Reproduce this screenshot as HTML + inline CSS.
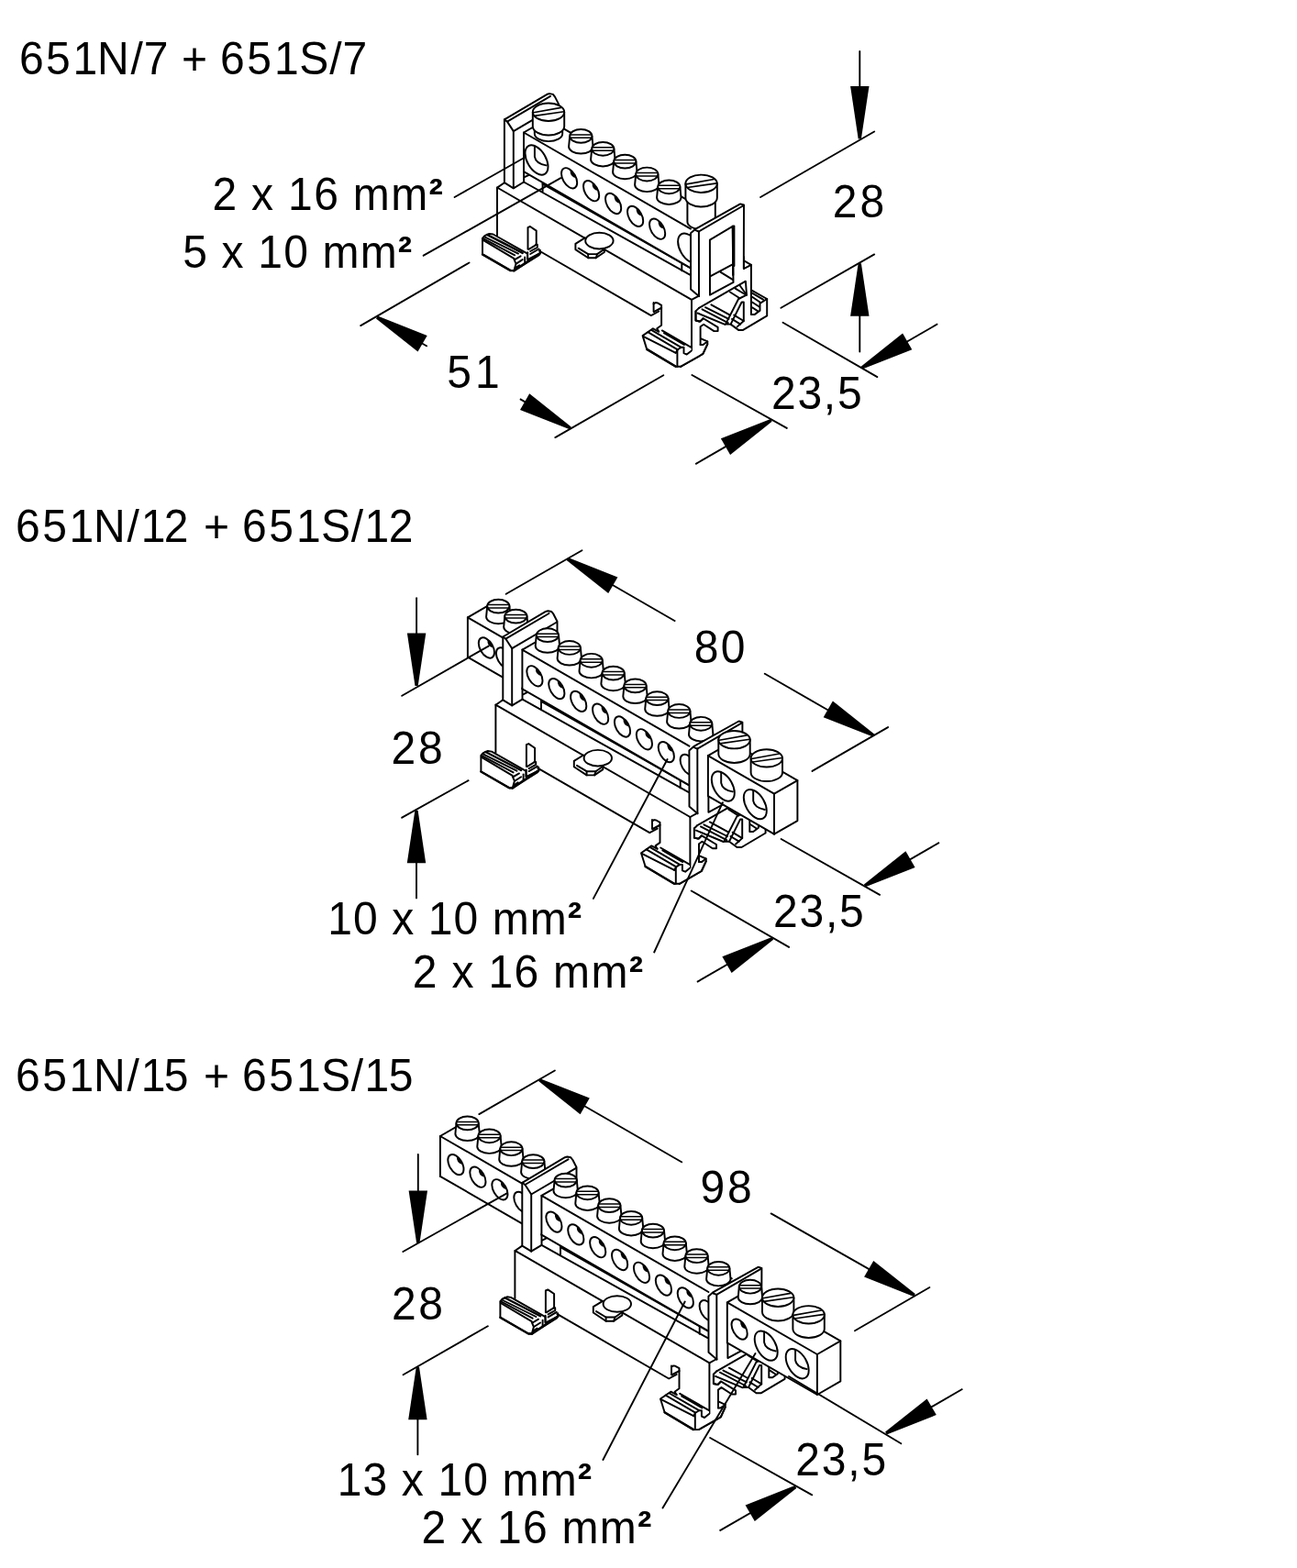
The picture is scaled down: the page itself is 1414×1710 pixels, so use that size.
<!DOCTYPE html>
<html lang="de"><head><meta charset="utf-8"><title>651N / 651S</title>
<style>
html,body{margin:0;padding:0;background:#fff}
body{width:1414px;height:1710px;overflow:hidden}
svg{display:block;will-change:transform}
svg path,svg ellipse{fill:none;stroke:#000;stroke-width:1.95;stroke-linecap:round;stroke-linejoin:round}
svg .w{fill:#fff}
svg .k{fill:#000}
svg .f{fill:#fff;stroke:none}
svg .a{fill:#000;stroke:none}
svg text{font-family:"Liberation Sans",sans-serif;font-size:50.8px;fill:#000;stroke:none}
</style></head><body>
<svg width="1414" height="1710" viewBox="0 0 1414 1710">
<text transform="translate(21 80.5) scale(0.945 1)" x="0 30.7 61.9 89.9 128.7 143.7 172.5 187.3 216.9 231.7 262.8 294.1 323.1 357.9 372.9" y="0">651N/7 + 651S/7</text>
<text transform="translate(16.9 590.5) scale(0.945 1)" x="0 31 62 90.1 128.7 144.7 171.3 199.6 217.1 246.8 261.5 292.5 323.9 352.6 387.2 402.8 430.6" y="0">651N/12 + 651S/12</text>
<text transform="translate(16.9 1189.9) scale(0.945 1)" x="0 31 62 90.1 128.7 144.7 171.3 199.6 217.1 246.8 261.5 292.5 323.9 352.6 387.2 402.8 430.6" y="0">651N/15 + 651S/15</text>
<text transform="translate(231.4 229.2) scale(0.945 1)" letter-spacing="1.42">2 x 16 mm<tspan font-size="49" font-weight="bold" dy="-1.4">²</tspan></text>
<text transform="translate(199.2 292.4) scale(0.945 1)" letter-spacing="1.25">5 x 10 mm<tspan font-size="49" font-weight="bold" dy="-1.4">²</tspan></text>
<text transform="translate(907.7 237.1) scale(0.945 1)" letter-spacing="3.17">28</text>
<text transform="translate(487.3 422.5) scale(0.945 1)" letter-spacing="4.13">51</text>
<text transform="translate(840.9 445.7) scale(0.945 1)" letter-spacing="1.90">23,5</text>
<text transform="translate(756.8 723) scale(0.945 1)" letter-spacing="2.43">80</text>
<text transform="translate(426.6 832.8) scale(0.945 1)" letter-spacing="2.75">28</text>
<text transform="translate(357.2 1018.7) scale(0.945 1)" letter-spacing="1.16">10 x 10 mm<tspan font-size="49" font-weight="bold" dy="-1.4">²</tspan></text>
<text transform="translate(449.7 1077.3) scale(0.945 1)" letter-spacing="1.41">2 x 16 mm<tspan font-size="49" font-weight="bold" dy="-1.4">²</tspan></text>
<text transform="translate(843.1 1011.1) scale(0.945 1)" letter-spacing="1.85">23,5</text>
<text transform="translate(763.6 1311.5) scale(0.945 1)" letter-spacing="2.96">98</text>
<text transform="translate(427.1 1439.2) scale(0.945 1)" letter-spacing="2.65">28</text>
<text transform="translate(367.7 1630.8) scale(0.945 1)" letter-spacing="1.20">13 x 10 mm<tspan font-size="49" font-weight="bold" dy="-1.4">²</tspan></text>
<text transform="translate(459.6 1682.5) scale(0.945 1)" letter-spacing="1.34">2 x 16 mm<tspan font-size="49" font-weight="bold" dy="-1.4">²</tspan></text>
<text transform="translate(867.2 1608.8) scale(0.945 1)" letter-spacing="1.94">23,5</text>
<g transform="translate(0 0)">
<path d="M762 335.9L812.9 306.7L814 321.7L805.1 326L791 353.6L796.6 353.6L805.1 359.9L810.1 359.9L836.2 344.4L836.2 326L820 316.8L818.9 316.8L818.9 288.5L810.8 284.2L810.8 280L762 280Z" class="f"/>
<path d="M762 335.9L812.9 306.7L814 321.7L805.1 326L791 353.6L796.6 353.6L805.1 359.9L810.1 359.9L836.2 344.4L836.2 326L820 316.8"/>
<path d="M810.8 280L810.8 293.1L818.9 288.8L810.8 284.2"/>
<path d="M806.9 311.8L814 321.7"/>
<path d="M795.9 318.5L806.5 325.3"/>
<path d="M801.6 314.7L812.2 321"/>
<path d="M762 335.9L758.4 339.4L758.4 349.3L762.7 350.7L766.2 347.9"/>
<path d="M760.6 341.5L790.3 353.9"/>
<path d="M765.5 337.3L793.8 352.1"/>
<path d="M769 335.2L794.5 347.9"/>
<path d="M775.4 332.3L795.9 343.6"/>
<path d="M796.6 353.6L808.6 329.5L810.8 329.5L810.8 350L803.7 356.4"/>
<path d="M800.2 343.6L810.8 350"/>
<path d="M798 347.9L807.2 353.6"/>
<path d="M818.9 288.8L818.9 342.9L822.8 342.9L828.5 338.7L828.5 330.9L836.2 326"/>
<path d="M820 319.6L832 326.7"/>
<path d="M820 323.8L828.5 329.5"/>
<path d="M820 329.5L827.7 334.5"/>
<path d="M820 335.2L826.3 339.4"/>
<path d="M763.6 376L763.6 356.2L767.1 353.7L778.4 361.1L782.6 361.1L782.6 356.9L766.4 347L763.6 350.5L758.6 349.8L758.6 339.2"/>
<path d="M763.6 376L766.4 376L771.3 372.4L764.3 369.3"/>
<path d="M742.3 399.7L766.4 385.9L771.3 375.3L771.3 372.4"/>
<path d="M526 259.8L528.4 257.1L533.4 254.9L537.6 255.5L575.1 276.7L575.1 283.1L587.8 276.7L587.8 278.1L560.3 295.1L556.7 295.1L526 277.4Z" class="w"/>
<path d="M527.7 258.1L565 276.6"/>
<path d="M530.9 255.9L569.7 275.9" style="stroke-width:2.4"/>
<path d="M526.3 261.6L560.3 281.8"/>
<path d="M526.3 259.8L561.2 278.3"/>
<path d="M560.4 282.7L562.5 287.6L560.4 295.2"/>
<path d="M561.2 283.1L567.6 279.3"/>
<path d="M563.1 287.4L569.7 283.1"/>
<path d="M561.6 292.2L566.3 289.3"/>
<path d="M572.2 280.4L572.2 286.3"/>
<path d="M575.2 275.3L575.2 282.1"/>
<path d="M560.4 295.2L588.8 276.3" style="stroke-width:2.6"/>
<path d="M526 277.4L556.7 295.1L560.3 295.1" style="stroke-width:2.4"/>
<path d="M542 204.5L754 326.9L754 382.5L738.4 382.5L721.2 355.5L721.2 330L716 326.3L712.7 328L712.7 339.9L709.8 344.3L587.8 273.6L585 272L575.5 271.8L575.5 258L542 257Z" class="f"/>
<path d="M542 257L542 204.5L754 326.9L754 382.5"/>
<path d="M575.5 271.8L575.5 248.1L577.9 247L584.7 251.6L584.7 266.8L576.5 271.8"/>
<path d="M584.1 266.8L585.8 266.8L585.8 269.8L578.2 274"/>
<path d="M578.2 277L587.5 271.5"/>
<path d="M588.8 276.3L588.8 272.7"/>
<path d="M587.8 273.5L709.8 344.1L718.3 339.5"/>
<path d="M712.6 339.9L712.6 330"/>
<path d="M712.6 331.4L714.8 330L716.9 330.4L721.1 332.8L721.1 354.8L716.2 358.3L718.3 361.8"/>
<path d="M713.3 339.9L721.1 335.7" style="stroke-width:2.2"/>
<path d="M700.6 366.1L711.9 358.3L718.3 361.8L721.8 360.4L753.6 378.8L753.6 382.3L766.4 385.9L742.3 399.7L736.7 399.7L705.2 380.9Z" class="f"/>
<path d="M718.3 361.8L711.9 358.3L700.6 366.1L705.2 380.9L736.7 399.7L742.3 399.7"/>
<path d="M706.3 362.2L738.8 381.3"/>
<path d="M710.5 360.1L742.7 378.8"/>
<path d="M701.3 366.8L736.7 384.8"/>
<path d="M721.8 360.4L753.6 378.8"/>
<path d="M723.9 363.2L745.9 376"/>
<path d="M736.7 384.8L738.8 381.3L742.7 378.8L745.5 378.8L745.5 385.2L748.7 386.6L753.6 382.7"/>
<path d="M738.4 381.6L738.4 399.7"/>
<path d="M705.2 380.9L736.7 399.7" style="stroke-width:2.4"/>
<path d="M742.3 399.7L766.4 385.9L771.3 375.3"/>
<path d="M627.4 265.8L637.7 259.4L658.9 271.4L658.9 275L649.7 281.3L641.2 281.3L627.4 272.1Z" class="w"/>
<path d="M630.6 270.7L641.2 277.1L651.1 277.1L658.2 272.1"/>
<path d="M641.2 277.1L641.2 281.3"/>
<path d="M651.1 277.1L649.7 281.3"/>
<ellipse cx="653.4" cy="262.6" rx="15.2" ry="8.8" class="w"/>
</g>
<path d="M542.1 204.6L549.9 199.2"/>
<path d="M571.1 198.5L752.1 299.7"/>
<g transform="translate(0 0)">
<path d="M549.9 130.4L596.5 102.8L599 102.1L602.9 102.9L605 105.6L609.1 113.6L609.1 160L571.1 198.5L559.8 205.3L549.9 199.2Z" class="f"/>
<path d="M571.1 198.5L559.8 205.3L549.9 199.2L549.9 130.4L596.5 102.8L599 102.1L602.9 102.9L605 105.6L609.1 113.6L609.1 150"/>
<path d="M549.9 130.4L553 132.6L600.1 104.9"/>
<path d="M553 132.6L559.8 143.1L608.6 114.4"/>
<path d="M559.8 143.1L559.8 205.3"/>
</g>
<path d="M571.1 186L571.1 198.5"/>
<path d="M743.3 287L743.3 295.3"/>
<path d="M571.8 193.2L576.7 190.8"/>
<path d="M591.6 199.6L591.6 208.8"/>
<path d="M591.6 200.7L752.1 291.9"/>
<path d="M571 144.5L596.4 129.9L778.4 234.9L753 249.6Z" class="f"/>
<path d="M571 144.5L753 249.6L753 292.3L571 187.2Z" class="f"/>
<path d="M571 187.2L571 144.5L753 249.6"/>
<path d="M571 144.5L596.4 129.9L778.4 234.9"/>
<path d="M571 187.2L753 292.3"/>
<ellipse cx="585" cy="174.5" rx="17.7" ry="10.2" transform="rotate(60 585 174.5)" class="w"/>
<path d="M582.9 159.3v11.5q1.2 7.5 12.6 9.6"/>
<ellipse cx="620.6" cy="194.3" rx="12.2" ry="7" transform="rotate(60 620.6 194.3)" class="w"/>
<path class="a" d="M621.6 185A12.2 7 60 0 1 628.3 194.2Q621 193.3 621.6 185Z"/>
<ellipse cx="644.6" cy="208.2" rx="12.2" ry="7" transform="rotate(60 644.6 208.2)" class="w"/>
<path class="a" d="M645.6 198.9A12.2 7 60 0 1 652.3 208.1Q645 207.2 645.6 198.9Z"/>
<ellipse cx="668.6" cy="222" rx="12.2" ry="7" transform="rotate(60 668.6 222)" class="w"/>
<path class="a" d="M669.6 212.7A12.2 7 60 0 1 676.3 221.9Q669 221 669.6 212.7Z"/>
<ellipse cx="692.6" cy="235.9" rx="12.2" ry="7" transform="rotate(60 692.6 235.9)" class="w"/>
<path class="a" d="M693.6 226.6A12.2 7 60 0 1 700.3 235.8Q693 234.9 693.6 226.6Z"/>
<ellipse cx="716.6" cy="249.7" rx="12.2" ry="7" transform="rotate(60 716.6 249.7)" class="w"/>
<path class="a" d="M717.6 240.4A12.2 7 60 0 1 724.3 249.6Q717 248.7 717.6 240.4Z"/>
<ellipse cx="751.6" cy="270.7" rx="17.7" ry="10.2" transform="rotate(60 751.6 270.7)" class="w"/>
<path d="M582.8 137.7v8a15.2 8.4 0 0 0 30.4 0v-8" class="w"/>
<path d="M580.8 122.2v15.5a17.2 9.7 0 0 0 34.4 0v-15.5" class="w"/>
<ellipse cx="598" cy="122.2" rx="17.2" ry="9.7" class="w"/>
<path d="M581.6 122.8L611.7 117.4" style="stroke-width:1.6"/>
<path d="M582.6 126.4L614.9 121.8" style="stroke-width:1.6"/>
<path d="M621.2 148.4L620.1 160A13.2 7.5 0 0 0 646.5 160L645.4 148.4Z" class="w"/>
<ellipse cx="633.3" cy="148.4" rx="12.1" ry="7.4" class="w"/>
<path d="M621.8 146.9L644.8 146.9" style="stroke-width:1.5"/>
<path d="M621.5 150.3L645.1 150.3" style="stroke-width:1.5"/>
<path d="M645.2 162.3L644.1 173.9A13.2 7.5 0 0 0 670.5 173.9L669.4 162.3Z" class="w"/>
<ellipse cx="657.3" cy="162.3" rx="12.1" ry="7.4" class="w"/>
<path d="M645.8 160.8L668.8 160.8" style="stroke-width:1.5"/>
<path d="M645.5 164.2L669.1 164.2" style="stroke-width:1.5"/>
<path d="M669.2 176.1L668.1 187.7A13.2 7.5 0 0 0 694.5 187.7L693.4 176.1Z" class="w"/>
<ellipse cx="681.3" cy="176.1" rx="12.1" ry="7.4" class="w"/>
<path d="M669.8 174.6L692.8 174.6" style="stroke-width:1.5"/>
<path d="M669.5 178L693.1 178" style="stroke-width:1.5"/>
<path d="M693.2 190L692.1 201.6A13.2 7.5 0 0 0 718.5 201.6L717.4 190Z" class="w"/>
<ellipse cx="705.3" cy="190" rx="12.1" ry="7.4" class="w"/>
<path d="M693.8 188.5L716.8 188.5" style="stroke-width:1.5"/>
<path d="M693.5 191.9L717.1 191.9" style="stroke-width:1.5"/>
<path d="M717.2 203.8L716.1 215.4A13.2 7.5 0 0 0 742.5 215.4L741.4 203.8Z" class="w"/>
<ellipse cx="729.3" cy="203.8" rx="12.1" ry="7.4" class="w"/>
<path d="M717.8 202.3L740.8 202.3" style="stroke-width:1.5"/>
<path d="M717.5 205.7L741.1 205.7" style="stroke-width:1.5"/>
<path d="M749.4 215.8v26a15.2 8.4 0 0 0 30.4 0v-26" class="w"/>
<path d="M747.4 200.3v15.5a17.2 9.7 0 0 0 34.4 0v-15.5" class="w"/>
<ellipse cx="764.6" cy="200.3" rx="17.2" ry="9.7" class="w"/>
<path d="M748.2 200.9L778.3 195.5" style="stroke-width:1.6"/>
<path d="M749.2 204.5L781.5 199.9" style="stroke-width:1.6"/>
<g transform="translate(0 0)">
<path d="M753 254.3L758.3 249.7L807.1 222.4L811 223.5L810.8 293.1L799.5 307.9L774 321.7L762 323.1L753.1 315.4Z" class="f"/>
<path d="M762 323.1L753.1 315.4L753 254.3L758.3 249.7L807.1 222.4L811 223.5L810.8 293.1"/>
<path d="M758.3 251.1L761.9 252.5L810 224.5"/>
<path d="M761.9 252.5L762 323.1"/>
<path d="M799.5 307.9L798.6 246.8L773.9 261.7L774 321.7L799.5 307.9"/>
<path d="M800.4 246.5L800.4 290"/>
<path d="M799.2 246.5L799.2 300" style="stroke-width:2.2"/>
<path d="M774.7 301.2L797.7 288.8"/>
<path d="M785.3 296.6L799.1 305.1"/>
<path d="M754 326.9L762 322.6"/>
</g>
<g transform="translate(-1.6 564.1)">
<path d="M762 335.9L812.9 306.7L814 321.7L805.1 326L791 353.6L796.6 353.6L805.1 359.9L810.1 359.9L836.2 344.4L836.2 326L820 316.8L818.9 316.8L818.9 288.5L810.8 284.2L810.8 280L762 280Z" class="f"/>
<path d="M762 335.9L812.9 306.7L814 321.7L805.1 326L791 353.6L796.6 353.6L805.1 359.9L810.1 359.9L836.2 344.4L836.2 326L820 316.8"/>
<path d="M810.8 280L810.8 293.1L818.9 288.8L810.8 284.2"/>
<path d="M806.9 311.8L814 321.7"/>
<path d="M795.9 318.5L806.5 325.3"/>
<path d="M801.6 314.7L812.2 321"/>
<path d="M762 335.9L758.4 339.4L758.4 349.3L762.7 350.7L766.2 347.9"/>
<path d="M760.6 341.5L790.3 353.9"/>
<path d="M765.5 337.3L793.8 352.1"/>
<path d="M769 335.2L794.5 347.9"/>
<path d="M775.4 332.3L795.9 343.6"/>
<path d="M796.6 353.6L808.6 329.5L810.8 329.5L810.8 350L803.7 356.4"/>
<path d="M800.2 343.6L810.8 350"/>
<path d="M798 347.9L807.2 353.6"/>
<path d="M818.9 288.8L818.9 342.9L822.8 342.9L828.5 338.7L828.5 330.9L836.2 326"/>
<path d="M820 319.6L832 326.7"/>
<path d="M820 323.8L828.5 329.5"/>
<path d="M820 329.5L827.7 334.5"/>
<path d="M820 335.2L826.3 339.4"/>
<path d="M763.6 376L763.6 356.2L767.1 353.7L778.4 361.1L782.6 361.1L782.6 356.9L766.4 347L763.6 350.5L758.6 349.8L758.6 339.2"/>
<path d="M763.6 376L766.4 376L771.3 372.4L764.3 369.3"/>
<path d="M742.3 399.7L766.4 385.9L771.3 375.3L771.3 372.4"/>
<path d="M526 259.8L528.4 257.1L533.4 254.9L537.6 255.5L575.1 276.7L575.1 283.1L587.8 276.7L587.8 278.1L560.3 295.1L556.7 295.1L526 277.4Z" class="w"/>
<path d="M527.7 258.1L565 276.6"/>
<path d="M530.9 255.9L569.7 275.9" style="stroke-width:2.4"/>
<path d="M526.3 261.6L560.3 281.8"/>
<path d="M526.3 259.8L561.2 278.3"/>
<path d="M560.4 282.7L562.5 287.6L560.4 295.2"/>
<path d="M561.2 283.1L567.6 279.3"/>
<path d="M563.1 287.4L569.7 283.1"/>
<path d="M561.6 292.2L566.3 289.3"/>
<path d="M572.2 280.4L572.2 286.3"/>
<path d="M575.2 275.3L575.2 282.1"/>
<path d="M560.4 295.2L588.8 276.3" style="stroke-width:2.6"/>
<path d="M526 277.4L556.7 295.1L560.3 295.1" style="stroke-width:2.4"/>
<path d="M542 204.5L754 326.9L754 382.5L738.4 382.5L721.2 355.5L721.2 330L716 326.3L712.7 328L712.7 339.9L709.8 344.3L587.8 273.6L585 272L575.5 271.8L575.5 258L542 257Z" class="f"/>
<path d="M542 257L542 204.5L754 326.9L754 382.5"/>
<path d="M575.5 271.8L575.5 248.1L577.9 247L584.7 251.6L584.7 266.8L576.5 271.8"/>
<path d="M584.1 266.8L585.8 266.8L585.8 269.8L578.2 274"/>
<path d="M578.2 277L587.5 271.5"/>
<path d="M588.8 276.3L588.8 272.7"/>
<path d="M587.8 273.5L709.8 344.1L718.3 339.5"/>
<path d="M712.6 339.9L712.6 330"/>
<path d="M712.6 331.4L714.8 330L716.9 330.4L721.1 332.8L721.1 354.8L716.2 358.3L718.3 361.8"/>
<path d="M713.3 339.9L721.1 335.7" style="stroke-width:2.2"/>
<path d="M700.6 366.1L711.9 358.3L718.3 361.8L721.8 360.4L753.6 378.8L753.6 382.3L766.4 385.9L742.3 399.7L736.7 399.7L705.2 380.9Z" class="f"/>
<path d="M718.3 361.8L711.9 358.3L700.6 366.1L705.2 380.9L736.7 399.7L742.3 399.7"/>
<path d="M706.3 362.2L738.8 381.3"/>
<path d="M710.5 360.1L742.7 378.8"/>
<path d="M701.3 366.8L736.7 384.8"/>
<path d="M721.8 360.4L753.6 378.8"/>
<path d="M723.9 363.2L745.9 376"/>
<path d="M736.7 384.8L738.8 381.3L742.7 378.8L745.5 378.8L745.5 385.2L748.7 386.6L753.6 382.7"/>
<path d="M738.4 381.6L738.4 399.7"/>
<path d="M705.2 380.9L736.7 399.7" style="stroke-width:2.4"/>
<path d="M742.3 399.7L766.4 385.9L771.3 375.3"/>
<path d="M627.4 265.8L637.7 259.4L658.9 271.4L658.9 275L649.7 281.3L641.2 281.3L627.4 272.1Z" class="w"/>
<path d="M630.6 270.7L641.2 277.1L651.1 277.1L658.2 272.1"/>
<path d="M641.2 277.1L641.2 281.3"/>
<path d="M651.1 277.1L649.7 281.3"/>
<ellipse cx="653.4" cy="262.6" rx="15.2" ry="8.8" class="w"/>
</g>
<g transform="translate(-1.6 564.1)">
<path d="M511.5 109.2L536.9 94.6L576.4 117.4L551 132Z" class="f"/>
<path d="M511.5 109.2L551 132L551 175.3L511.5 152.5Z" class="f"/>
<path d="M511.5 152.5L511.5 109.2L551 132"/>
<path d="M511.5 109.2L536.9 94.6L576.4 117.4"/>
<path d="M511.5 152.5L551 175.3"/>
<ellipse cx="532" cy="142.4" rx="12.2" ry="7" transform="rotate(60 532 142.4)" class="w"/>
<path class="a" d="M533 133.1A12.2 7 60 0 1 539.7 142.3Q532.4 141.4 533 133.1Z"/>
<ellipse cx="551.1" cy="153.4" rx="12.2" ry="7" transform="rotate(60 551.1 153.4)" class="w"/>
<path class="a" d="M552.1 144.1A12.2 7 60 0 1 558.8 153.3Q551.5 152.4 552.1 144.1Z"/>
<path d="M532.8 97L531.7 108.6A13.2 7.5 0 0 0 558.1 108.6L557 97Z" class="w"/>
<ellipse cx="544.9" cy="97" rx="12.1" ry="7.4" class="w"/>
<path d="M533.4 95.5L556.4 95.5" style="stroke-width:1.5"/>
<path d="M533.1 98.9L556.7 98.9" style="stroke-width:1.5"/>
<path d="M551.9 108L550.8 119.6A13.2 7.5 0 0 0 577.2 119.6L576.1 108Z" class="w"/>
<ellipse cx="564" cy="108" rx="12.1" ry="7.4" class="w"/>
<path d="M552.5 106.5L575.5 106.5" style="stroke-width:1.5"/>
<path d="M552.2 109.9L575.8 109.9" style="stroke-width:1.5"/>
<path d="M542.1 204.6L549.9 199.2"/>
<path d="M571.1 198.5L752.1 299.7"/>
<g transform="translate(0 0)">
<path d="M549.9 130.4L596.5 102.8L599 102.1L602.9 102.9L605 105.6L609.1 113.6L609.1 160L571.1 198.5L559.8 205.3L549.9 199.2Z" class="f"/>
<path d="M571.1 198.5L559.8 205.3L549.9 199.2L549.9 130.4L596.5 102.8L599 102.1L602.9 102.9L605 105.6L609.1 113.6L609.1 150"/>
<path d="M549.9 130.4L553 132.6L600.1 104.9"/>
<path d="M553 132.6L559.8 143.1L608.6 114.4"/>
<path d="M559.8 143.1L559.8 205.3"/>
</g>
<path d="M571.1 186L571.1 198.5"/>
<path d="M743.3 287L743.3 295.3"/>
<path d="M571.8 193.2L576.7 190.8"/>
<path d="M591.6 199.6L591.6 208.8"/>
<path d="M591.6 200.7L752.1 291.9"/>
<path d="M571 144.5L596.4 129.9L778.4 234.9L753 249.6Z" class="f"/>
<path d="M571 144.5L753 249.6L753 292.3L571 187.2Z" class="f"/>
<path d="M571 187.2L571 144.5L753 249.6"/>
<path d="M571 144.5L596.4 129.9L778.4 234.9"/>
<path d="M571 187.2L753 292.3"/>
<ellipse cx="584.5" cy="173.2" rx="12.2" ry="7" transform="rotate(60 584.5 173.2)" class="w"/>
<path class="a" d="M585.5 163.9A12.2 7 60 0 1 592.2 173.1Q584.9 172.2 585.5 163.9Z"/>
<ellipse cx="608.4" cy="187" rx="12.2" ry="7" transform="rotate(60 608.4 187)" class="w"/>
<path class="a" d="M609.4 177.7A12.2 7 60 0 1 616.1 186.9Q608.8 186 609.4 177.7Z"/>
<ellipse cx="632.3" cy="200.8" rx="12.2" ry="7" transform="rotate(60 632.3 200.8)" class="w"/>
<path class="a" d="M633.3 191.5A12.2 7 60 0 1 640 200.7Q632.7 199.8 633.3 191.5Z"/>
<ellipse cx="656.2" cy="214.6" rx="12.2" ry="7" transform="rotate(60 656.2 214.6)" class="w"/>
<path class="a" d="M657.2 205.3A12.2 7 60 0 1 663.9 214.5Q656.6 213.6 657.2 205.3Z"/>
<ellipse cx="680.1" cy="228.4" rx="12.2" ry="7" transform="rotate(60 680.1 228.4)" class="w"/>
<path class="a" d="M681.1 219.1A12.2 7 60 0 1 687.8 228.3Q680.5 227.4 681.1 219.1Z"/>
<ellipse cx="704" cy="242.2" rx="12.2" ry="7" transform="rotate(60 704 242.2)" class="w"/>
<path class="a" d="M705 232.9A12.2 7 60 0 1 711.7 242.1Q704.4 241.2 705 232.9Z"/>
<ellipse cx="727.9" cy="256" rx="12.2" ry="7" transform="rotate(60 727.9 256)" class="w"/>
<path class="a" d="M728.9 246.7A12.2 7 60 0 1 735.6 255.9Q728.3 255 728.9 246.7Z"/>
<ellipse cx="751.8" cy="269.8" rx="12.2" ry="7" transform="rotate(60 751.8 269.8)" class="w"/>
<path class="a" d="M752.8 260.5A12.2 7 60 0 1 759.5 269.7Q752.2 268.8 752.8 260.5Z"/>
<path d="M586.4 128.6L585.3 140.2A13.2 7.5 0 0 0 611.7 140.2L610.6 128.6Z" class="w"/>
<ellipse cx="598.5" cy="128.6" rx="12.1" ry="7.4" class="w"/>
<path d="M587 127.1L610 127.1" style="stroke-width:1.5"/>
<path d="M586.7 130.5L610.3 130.5" style="stroke-width:1.5"/>
<path d="M610.3 142.4L609.2 154A13.2 7.5 0 0 0 635.6 154L634.5 142.4Z" class="w"/>
<ellipse cx="622.4" cy="142.4" rx="12.1" ry="7.4" class="w"/>
<path d="M610.9 140.9L633.9 140.9" style="stroke-width:1.5"/>
<path d="M610.6 144.3L634.2 144.3" style="stroke-width:1.5"/>
<path d="M634.2 156.2L633.1 167.8A13.2 7.5 0 0 0 659.5 167.8L658.4 156.2Z" class="w"/>
<ellipse cx="646.3" cy="156.2" rx="12.1" ry="7.4" class="w"/>
<path d="M634.8 154.7L657.8 154.7" style="stroke-width:1.5"/>
<path d="M634.5 158.1L658.1 158.1" style="stroke-width:1.5"/>
<path d="M658.1 170L657 181.6A13.2 7.5 0 0 0 683.4 181.6L682.3 170Z" class="w"/>
<ellipse cx="670.2" cy="170" rx="12.1" ry="7.4" class="w"/>
<path d="M658.7 168.5L681.7 168.5" style="stroke-width:1.5"/>
<path d="M658.4 171.9L682 171.9" style="stroke-width:1.5"/>
<path d="M682 183.8L680.9 195.4A13.2 7.5 0 0 0 707.3 195.4L706.2 183.8Z" class="w"/>
<ellipse cx="694.1" cy="183.8" rx="12.1" ry="7.4" class="w"/>
<path d="M682.6 182.3L705.6 182.3" style="stroke-width:1.5"/>
<path d="M682.3 185.7L705.9 185.7" style="stroke-width:1.5"/>
<path d="M705.9 197.6L704.8 209.2A13.2 7.5 0 0 0 731.2 209.2L730.1 197.6Z" class="w"/>
<ellipse cx="718" cy="197.6" rx="12.1" ry="7.4" class="w"/>
<path d="M706.5 196.1L729.5 196.1" style="stroke-width:1.5"/>
<path d="M706.2 199.5L729.8 199.5" style="stroke-width:1.5"/>
<path d="M729.8 211.4L728.7 223A13.2 7.5 0 0 0 755.1 223L754 211.4Z" class="w"/>
<ellipse cx="741.9" cy="211.4" rx="12.1" ry="7.4" class="w"/>
<path d="M730.4 209.9L753.4 209.9" style="stroke-width:1.5"/>
<path d="M730.1 213.3L753.7 213.3" style="stroke-width:1.5"/>
<path d="M753.7 225.2L752.6 236.8A13.2 7.5 0 0 0 779 236.8L777.9 225.2Z" class="w"/>
<ellipse cx="765.8" cy="225.2" rx="12.1" ry="7.4" class="w"/>
<path d="M754.3 223.7L777.3 223.7" style="stroke-width:1.5"/>
<path d="M754 227.1L777.6 227.1" style="stroke-width:1.5"/>
<g transform="translate(0 0)">
<path d="M753 254.3L758.3 249.7L807.1 222.4L811 223.5L810.8 293.1L799.5 307.9L774 321.7L762 323.1L753.1 315.4Z" class="f"/>
<path d="M762 323.1L753.1 315.4L753 254.3L758.3 249.7L807.1 222.4L811 223.5L810.8 293.1"/>
<path d="M758.3 251.1L761.9 252.5L810 224.5"/>
<path d="M761.9 252.5L762 323.1"/>
<path d="M799.5 307.9L798.6 246.8L773.9 261.7L774 321.7L799.5 307.9"/>
<path d="M800.4 246.5L800.4 290"/>
<path d="M799.2 246.5L799.2 300" style="stroke-width:2.2"/>
<path d="M774.7 301.2L797.7 288.8"/>
<path d="M785.3 296.6L799.1 305.1"/>
<path d="M754 326.9L762 322.6"/>
</g>
<path d="M773.5 260L798.9 245.4L871 287L845.6 301.6Z" class="f"/>
<path d="M773.5 260L845.6 301.6L845.6 345.6L773.5 304Z" class="f"/>
<path d="M845.6 301.6L871 287L871 331L845.6 345.6Z" class="f"/>
<path d="M798.9 245.4L871 287L871 331L845.6 345.6L773.5 304L773.5 260L798.9 245.4"/>
<path d="M773.5 260L845.6 301.6L871 287"/>
<path d="M845.6 301.6L845.6 345.6"/>
<ellipse cx="789.9" cy="293.4" rx="17.7" ry="10.2" transform="rotate(60 789.9 293.4)" class="w"/>
<path d="M787.8 278.2v11.5q1.2 7.5 12.6 9.6"/>
<ellipse cx="824.9" cy="313" rx="17.7" ry="10.2" transform="rotate(60 824.9 313)" class="w"/>
<path d="M822.8 297.8v11.5q1.2 7.5 12.6 9.6"/>
<path d="M784.9 242.6v15.5a17.2 9.7 0 0 0 34.4 0v-15.5" class="w"/>
<ellipse cx="802.1" cy="242.6" rx="17.2" ry="9.7" class="w"/>
<path d="M785.7 243.2L815.8 237.8" style="stroke-width:1.6"/>
<path d="M786.7 246.8L819 242.2" style="stroke-width:1.6"/>
<path d="M820.2 262.8v15.5a17.2 9.7 0 0 0 34.4 0v-15.5" class="w"/>
<ellipse cx="837.4" cy="262.8" rx="17.2" ry="9.7" class="w"/>
<path d="M821 263.4L851.1 257.9" style="stroke-width:1.6"/>
<path d="M822 266.9L854.3 262.4" style="stroke-width:1.6"/>
</g>
<g transform="translate(19.4 1159.4)">
<path d="M762 335.9L812.9 306.7L814 321.7L805.1 326L791 353.6L796.6 353.6L805.1 359.9L810.1 359.9L836.2 344.4L836.2 326L820 316.8L818.9 316.8L818.9 288.5L810.8 284.2L810.8 280L762 280Z" class="f"/>
<path d="M762 335.9L812.9 306.7L814 321.7L805.1 326L791 353.6L796.6 353.6L805.1 359.9L810.1 359.9L836.2 344.4L836.2 326L820 316.8"/>
<path d="M810.8 280L810.8 293.1L818.9 288.8L810.8 284.2"/>
<path d="M806.9 311.8L814 321.7"/>
<path d="M795.9 318.5L806.5 325.3"/>
<path d="M801.6 314.7L812.2 321"/>
<path d="M762 335.9L758.4 339.4L758.4 349.3L762.7 350.7L766.2 347.9"/>
<path d="M760.6 341.5L790.3 353.9"/>
<path d="M765.5 337.3L793.8 352.1"/>
<path d="M769 335.2L794.5 347.9"/>
<path d="M775.4 332.3L795.9 343.6"/>
<path d="M796.6 353.6L808.6 329.5L810.8 329.5L810.8 350L803.7 356.4"/>
<path d="M800.2 343.6L810.8 350"/>
<path d="M798 347.9L807.2 353.6"/>
<path d="M818.9 288.8L818.9 342.9L822.8 342.9L828.5 338.7L828.5 330.9L836.2 326"/>
<path d="M820 319.6L832 326.7"/>
<path d="M820 323.8L828.5 329.5"/>
<path d="M820 329.5L827.7 334.5"/>
<path d="M820 335.2L826.3 339.4"/>
<path d="M763.6 376L763.6 356.2L767.1 353.7L778.4 361.1L782.6 361.1L782.6 356.9L766.4 347L763.6 350.5L758.6 349.8L758.6 339.2"/>
<path d="M763.6 376L766.4 376L771.3 372.4L764.3 369.3"/>
<path d="M742.3 399.7L766.4 385.9L771.3 375.3L771.3 372.4"/>
<path d="M526 259.8L528.4 257.1L533.4 254.9L537.6 255.5L575.1 276.7L575.1 283.1L587.8 276.7L587.8 278.1L560.3 295.1L556.7 295.1L526 277.4Z" class="w"/>
<path d="M527.7 258.1L565 276.6"/>
<path d="M530.9 255.9L569.7 275.9" style="stroke-width:2.4"/>
<path d="M526.3 261.6L560.3 281.8"/>
<path d="M526.3 259.8L561.2 278.3"/>
<path d="M560.4 282.7L562.5 287.6L560.4 295.2"/>
<path d="M561.2 283.1L567.6 279.3"/>
<path d="M563.1 287.4L569.7 283.1"/>
<path d="M561.6 292.2L566.3 289.3"/>
<path d="M572.2 280.4L572.2 286.3"/>
<path d="M575.2 275.3L575.2 282.1"/>
<path d="M560.4 295.2L588.8 276.3" style="stroke-width:2.6"/>
<path d="M526 277.4L556.7 295.1L560.3 295.1" style="stroke-width:2.4"/>
<path d="M542 204.5L754 326.9L754 382.5L738.4 382.5L721.2 355.5L721.2 330L716 326.3L712.7 328L712.7 339.9L709.8 344.3L587.8 273.6L585 272L575.5 271.8L575.5 258L542 257Z" class="f"/>
<path d="M542 257L542 204.5L754 326.9L754 382.5"/>
<path d="M575.5 271.8L575.5 248.1L577.9 247L584.7 251.6L584.7 266.8L576.5 271.8"/>
<path d="M584.1 266.8L585.8 266.8L585.8 269.8L578.2 274"/>
<path d="M578.2 277L587.5 271.5"/>
<path d="M588.8 276.3L588.8 272.7"/>
<path d="M587.8 273.5L709.8 344.1L718.3 339.5"/>
<path d="M712.6 339.9L712.6 330"/>
<path d="M712.6 331.4L714.8 330L716.9 330.4L721.1 332.8L721.1 354.8L716.2 358.3L718.3 361.8"/>
<path d="M713.3 339.9L721.1 335.7" style="stroke-width:2.2"/>
<path d="M700.6 366.1L711.9 358.3L718.3 361.8L721.8 360.4L753.6 378.8L753.6 382.3L766.4 385.9L742.3 399.7L736.7 399.7L705.2 380.9Z" class="f"/>
<path d="M718.3 361.8L711.9 358.3L700.6 366.1L705.2 380.9L736.7 399.7L742.3 399.7"/>
<path d="M706.3 362.2L738.8 381.3"/>
<path d="M710.5 360.1L742.7 378.8"/>
<path d="M701.3 366.8L736.7 384.8"/>
<path d="M721.8 360.4L753.6 378.8"/>
<path d="M723.9 363.2L745.9 376"/>
<path d="M736.7 384.8L738.8 381.3L742.7 378.8L745.5 378.8L745.5 385.2L748.7 386.6L753.6 382.7"/>
<path d="M738.4 381.6L738.4 399.7"/>
<path d="M705.2 380.9L736.7 399.7" style="stroke-width:2.4"/>
<path d="M742.3 399.7L766.4 385.9L771.3 375.3"/>
<path d="M627.4 265.8L637.7 259.4L658.9 271.4L658.9 275L649.7 281.3L641.2 281.3L627.4 272.1Z" class="w"/>
<path d="M630.6 270.7L641.2 277.1L651.1 277.1L658.2 272.1"/>
<path d="M641.2 277.1L641.2 281.3"/>
<path d="M651.1 277.1L649.7 281.3"/>
<ellipse cx="653.4" cy="262.6" rx="15.2" ry="8.8" class="w"/>
</g>
<g transform="translate(19.4 1159.4)">
<path d="M460.5 79.6L485.9 65L576.4 117.2L551 131.9Z" class="f"/>
<path d="M460.5 79.6L551 131.9L551 175.7L460.5 123.4Z" class="f"/>
<path d="M460.5 123.4L460.5 79.6L551 131.9"/>
<path d="M460.5 79.6L485.9 65L576.4 117.2"/>
<path d="M460.5 123.4L551 175.7"/>
<ellipse cx="477.5" cy="110.7" rx="12.2" ry="7" transform="rotate(60 477.5 110.7)" class="w"/>
<path class="a" d="M478.5 101.4A12.2 7 60 0 1 485.2 110.6Q477.9 109.7 478.5 101.4Z"/>
<ellipse cx="501.5" cy="124.3" rx="12.2" ry="7" transform="rotate(60 501.5 124.3)" class="w"/>
<path class="a" d="M502.5 115A12.2 7 60 0 1 509.2 124.2Q501.9 123.3 502.5 115Z"/>
<ellipse cx="525.5" cy="137.9" rx="12.2" ry="7" transform="rotate(60 525.5 137.9)" class="w"/>
<path class="a" d="M526.5 128.6A12.2 7 60 0 1 533.2 137.8Q525.9 136.9 526.5 128.6Z"/>
<ellipse cx="549.5" cy="151.5" rx="12.2" ry="7" transform="rotate(60 549.5 151.5)" class="w"/>
<path class="a" d="M550.5 142.2A12.2 7 60 0 1 557.2 151.4Q549.9 150.5 550.5 142.2Z"/>
<path d="M478.1 65.5L477 77.1A13.2 7.5 0 0 0 503.4 77.1L502.3 65.5Z" class="w"/>
<ellipse cx="490.2" cy="65.5" rx="12.1" ry="7.4" class="w"/>
<path d="M478.7 64L501.7 64" style="stroke-width:1.5"/>
<path d="M478.4 67.4L502 67.4" style="stroke-width:1.5"/>
<path d="M502 79.4L500.9 91A13.2 7.5 0 0 0 527.3 91L526.2 79.4Z" class="w"/>
<ellipse cx="514.1" cy="79.4" rx="12.1" ry="7.4" class="w"/>
<path d="M502.6 77.9L525.6 77.9" style="stroke-width:1.5"/>
<path d="M502.3 81.3L525.9 81.3" style="stroke-width:1.5"/>
<path d="M525.9 93.3L524.8 104.9A13.2 7.5 0 0 0 551.2 104.9L550.1 93.3Z" class="w"/>
<ellipse cx="538" cy="93.3" rx="12.1" ry="7.4" class="w"/>
<path d="M526.5 91.8L549.5 91.8" style="stroke-width:1.5"/>
<path d="M526.2 95.2L549.8 95.2" style="stroke-width:1.5"/>
<path d="M549.8 107.2L548.7 118.8A13.2 7.5 0 0 0 575.1 118.8L574 107.2Z" class="w"/>
<ellipse cx="561.9" cy="107.2" rx="12.1" ry="7.4" class="w"/>
<path d="M550.4 105.7L573.4 105.7" style="stroke-width:1.5"/>
<path d="M550.1 109.1L573.7 109.1" style="stroke-width:1.5"/>
<path d="M542.1 204.6L549.9 199.2"/>
<path d="M571.1 198.5L752.1 299.7"/>
<g transform="translate(0 0)">
<path d="M549.9 130.4L596.5 102.8L599 102.1L602.9 102.9L605 105.6L609.1 113.6L609.1 160L571.1 198.5L559.8 205.3L549.9 199.2Z" class="f"/>
<path d="M571.1 198.5L559.8 205.3L549.9 199.2L549.9 130.4L596.5 102.8L599 102.1L602.9 102.9L605 105.6L609.1 113.6L609.1 150"/>
<path d="M549.9 130.4L553 132.6L600.1 104.9"/>
<path d="M553 132.6L559.8 143.1L608.6 114.4"/>
<path d="M559.8 143.1L559.8 205.3"/>
</g>
<path d="M571.1 186L571.1 198.5"/>
<path d="M743.3 287L743.3 295.3"/>
<path d="M571.8 193.2L576.7 190.8"/>
<path d="M591.6 199.6L591.6 208.8"/>
<path d="M591.6 200.7L752.1 291.9"/>
<path d="M571 144.5L596.4 129.9L778.4 234.9L753 249.6Z" class="f"/>
<path d="M571 144.5L753 249.6L753 292.3L571 187.2Z" class="f"/>
<path d="M571 187.2L571 144.5L753 249.6"/>
<path d="M571 144.5L596.4 129.9L778.4 234.9"/>
<path d="M571 187.2L753 292.3"/>
<ellipse cx="584.5" cy="173.2" rx="12.2" ry="7" transform="rotate(60 584.5 173.2)" class="w"/>
<path class="a" d="M585.5 163.9A12.2 7 60 0 1 592.2 173.1Q584.9 172.2 585.5 163.9Z"/>
<ellipse cx="608.4" cy="187" rx="12.2" ry="7" transform="rotate(60 608.4 187)" class="w"/>
<path class="a" d="M609.4 177.7A12.2 7 60 0 1 616.1 186.9Q608.8 186 609.4 177.7Z"/>
<ellipse cx="632.3" cy="200.8" rx="12.2" ry="7" transform="rotate(60 632.3 200.8)" class="w"/>
<path class="a" d="M633.3 191.5A12.2 7 60 0 1 640 200.7Q632.7 199.8 633.3 191.5Z"/>
<ellipse cx="656.2" cy="214.6" rx="12.2" ry="7" transform="rotate(60 656.2 214.6)" class="w"/>
<path class="a" d="M657.2 205.3A12.2 7 60 0 1 663.9 214.5Q656.6 213.6 657.2 205.3Z"/>
<ellipse cx="680.1" cy="228.4" rx="12.2" ry="7" transform="rotate(60 680.1 228.4)" class="w"/>
<path class="a" d="M681.1 219.1A12.2 7 60 0 1 687.8 228.3Q680.5 227.4 681.1 219.1Z"/>
<ellipse cx="704" cy="242.2" rx="12.2" ry="7" transform="rotate(60 704 242.2)" class="w"/>
<path class="a" d="M705 232.9A12.2 7 60 0 1 711.7 242.1Q704.4 241.2 705 232.9Z"/>
<ellipse cx="727.9" cy="256" rx="12.2" ry="7" transform="rotate(60 727.9 256)" class="w"/>
<path class="a" d="M728.9 246.7A12.2 7 60 0 1 735.6 255.9Q728.3 255 728.9 246.7Z"/>
<ellipse cx="751.8" cy="269.8" rx="12.2" ry="7" transform="rotate(60 751.8 269.8)" class="w"/>
<path class="a" d="M752.8 260.5A12.2 7 60 0 1 759.5 269.7Q752.2 268.8 752.8 260.5Z"/>
<path d="M585.2 127.7L584.1 139.3A13.2 7.5 0 0 0 610.5 139.3L609.4 127.7Z" class="w"/>
<ellipse cx="597.3" cy="127.7" rx="12.1" ry="7.4" class="w"/>
<path d="M585.8 126.2L608.8 126.2" style="stroke-width:1.5"/>
<path d="M585.5 129.6L609.1 129.6" style="stroke-width:1.5"/>
<path d="M609 141.4L607.9 153A13.2 7.5 0 0 0 634.3 153L633.2 141.4Z" class="w"/>
<ellipse cx="621.1" cy="141.4" rx="12.1" ry="7.4" class="w"/>
<path d="M609.6 139.9L632.6 139.9" style="stroke-width:1.5"/>
<path d="M609.3 143.3L632.9 143.3" style="stroke-width:1.5"/>
<path d="M632.8 155.2L631.7 166.8A13.2 7.5 0 0 0 658.1 166.8L657 155.2Z" class="w"/>
<ellipse cx="644.9" cy="155.2" rx="12.1" ry="7.4" class="w"/>
<path d="M633.4 153.7L656.4 153.7" style="stroke-width:1.5"/>
<path d="M633.1 157.1L656.7 157.1" style="stroke-width:1.5"/>
<path d="M656.6 168.9L655.5 180.5A13.2 7.5 0 0 0 681.9 180.5L680.8 168.9Z" class="w"/>
<ellipse cx="668.7" cy="168.9" rx="12.1" ry="7.4" class="w"/>
<path d="M657.2 167.4L680.2 167.4" style="stroke-width:1.5"/>
<path d="M656.9 170.8L680.5 170.8" style="stroke-width:1.5"/>
<path d="M680.4 182.7L679.3 194.3A13.2 7.5 0 0 0 705.7 194.3L704.6 182.7Z" class="w"/>
<ellipse cx="692.5" cy="182.7" rx="12.1" ry="7.4" class="w"/>
<path d="M681 181.2L704 181.2" style="stroke-width:1.5"/>
<path d="M680.7 184.6L704.3 184.6" style="stroke-width:1.5"/>
<path d="M704.2 196.4L703.1 208A13.2 7.5 0 0 0 729.5 208L728.4 196.4Z" class="w"/>
<ellipse cx="716.3" cy="196.4" rx="12.1" ry="7.4" class="w"/>
<path d="M704.8 194.9L727.8 194.9" style="stroke-width:1.5"/>
<path d="M704.5 198.3L728.1 198.3" style="stroke-width:1.5"/>
<path d="M728 210.2L726.9 221.8A13.2 7.5 0 0 0 753.3 221.8L752.2 210.2Z" class="w"/>
<ellipse cx="740.1" cy="210.2" rx="12.1" ry="7.4" class="w"/>
<path d="M728.6 208.7L751.6 208.7" style="stroke-width:1.5"/>
<path d="M728.3 212.1L751.9 212.1" style="stroke-width:1.5"/>
<path d="M751.8 223.9L750.7 235.5A13.2 7.5 0 0 0 777.1 235.5L776 223.9Z" class="w"/>
<ellipse cx="763.9" cy="223.9" rx="12.1" ry="7.4" class="w"/>
<path d="M752.4 222.4L775.4 222.4" style="stroke-width:1.5"/>
<path d="M752.1 225.8L775.7 225.8" style="stroke-width:1.5"/>
<g transform="translate(0 0)">
<path d="M753 254.3L758.3 249.7L807.1 222.4L811 223.5L810.8 293.1L799.5 307.9L774 321.7L762 323.1L753.1 315.4Z" class="f"/>
<path d="M762 323.1L753.1 315.4L753 254.3L758.3 249.7L807.1 222.4L811 223.5L810.8 293.1"/>
<path d="M758.3 251.1L761.9 252.5L810 224.5"/>
<path d="M761.9 252.5L762 323.1"/>
<path d="M799.5 307.9L798.6 246.8L773.9 261.7L774 321.7L799.5 307.9"/>
<path d="M800.4 246.5L800.4 290"/>
<path d="M799.2 246.5L799.2 300" style="stroke-width:2.2"/>
<path d="M774.7 301.2L797.7 288.8"/>
<path d="M785.3 296.6L799.1 305.1"/>
<path d="M754 326.9L762 322.6"/>
</g>
<path d="M773.4 261L798.8 246.4L896.9 303L871.5 317.6Z" class="f"/>
<path d="M773.4 261L871.5 317.6L871.5 361.6L773.4 305Z" class="f"/>
<path d="M871.5 317.6L896.9 303L896.9 347L871.5 361.6Z" class="f"/>
<path d="M798.8 246.4L896.9 303L896.9 347L871.5 361.6L773.4 305L773.4 261L798.8 246.4"/>
<path d="M773.4 261L871.5 317.6L896.9 303"/>
<path d="M871.5 317.6L871.5 361.6"/>
<ellipse cx="786.7" cy="290.2" rx="12.2" ry="7" transform="rotate(60 786.7 290.2)" class="w"/>
<path class="a" d="M787.7 280.9A12.2 7 60 0 1 794.4 290.1Q787.1 289.2 787.7 280.9Z"/>
<ellipse cx="815.8" cy="308.2" rx="17.7" ry="10.2" transform="rotate(60 815.8 308.2)" class="w"/>
<path d="M813.7 293v11.5q1.2 7.5 12.6 9.6"/>
<ellipse cx="849.8" cy="327.8" rx="17.7" ry="10.2" transform="rotate(60 849.8 327.8)" class="w"/>
<path d="M847.7 312.6v11.5q1.2 7.5 12.6 9.6"/>
<path d="M786.4 243.8L785.3 255.4A13.2 7.5 0 0 0 811.7 255.4L810.6 243.8Z" class="w"/>
<ellipse cx="798.5" cy="243.8" rx="12.1" ry="7.4" class="w"/>
<path d="M787 242.3L810 242.3" style="stroke-width:1.5"/>
<path d="M786.7 245.7L810.3 245.7" style="stroke-width:1.5"/>
<path d="M811.6 255.8v15.5a17.2 9.7 0 0 0 34.4 0v-15.5" class="w"/>
<ellipse cx="828.8" cy="255.8" rx="17.2" ry="9.7" class="w"/>
<path d="M812.4 256.4L842.5 251" style="stroke-width:1.6"/>
<path d="M813.4 260L845.7 255.4" style="stroke-width:1.6"/>
<path d="M845 274.4v15.5a17.2 9.7 0 0 0 34.4 0v-15.5" class="w"/>
<ellipse cx="862.2" cy="274.4" rx="17.2" ry="9.7" class="w"/>
<path d="M845.8 275L875.9 269.6" style="stroke-width:1.6"/>
<path d="M846.8 278.6L879.1 274" style="stroke-width:1.6"/>
</g>
<path d="M495.6 215L571.5 172" style="stroke-width:1.9"/>
<path d="M461.7 278.7L611.3 194.2" style="stroke-width:1.9"/>
<path d="M511.5 286.5L393.2 355.1" style="stroke-width:1.9"/>
<path d="M723.3 409.2L605.3 477.1" style="stroke-width:1.9"/>
<path d="M411.6 344.6L465.7 365.9L455.5 383.6L410 347.4Z" class="a"/>
<path d="M465.8 377.8L411.2 346.2" style="stroke-width:1.9;stroke-linecap:butt"/>
<path d="M621.1 468.3L567 447L577.2 429.3L622.7 465.5Z" class="a"/>
<path d="M566.9 435.1L621.5 466.6" style="stroke-width:1.9;stroke-linecap:butt"/>
<path d="M937.3 55.9L937.3 95" style="stroke-width:1.9"/>
<path d="M935.7 151.4L927.1 93.9L947.5 93.9L938.9 151.4Z" class="a"/>
<path d="M937.3 93.9L937.3 150.9" style="stroke-width:1.9;stroke-linecap:butt"/>
<path d="M829.1 215L953.2 143.5" style="stroke-width:1.9"/>
<path d="M851.4 335.7L953.2 277.4" style="stroke-width:1.9"/>
<path d="M938.9 287.2L947.5 344.7L927.1 344.7L935.7 287.2Z" class="a"/>
<path d="M937.3 344.7L937.3 287.7" style="stroke-width:1.9;stroke-linecap:butt"/>
<path d="M937.3 344L937.3 383.5" style="stroke-width:1.9"/>
<path d="M853.5 351.7L956.4 411.1" style="stroke-width:1.9"/>
<path d="M754.4 409L857.8 466.9" style="stroke-width:1.9"/>
<path d="M938.6 399.7L984.1 363.5L994.3 381.2L940.2 402.5Z" class="a"/>
<path d="M1022.2 353.3L939.8 400.9" style="stroke-width:1.9;stroke-linecap:butt"/>
<path d="M841.6 459.8L796.1 496L785.9 478.3L840 457Z" class="a"/>
<path d="M758.2 506.1L840.4 458.6" style="stroke-width:1.9;stroke-linecap:butt"/>
<path d="M454.1 652.2L454.1 691" style="stroke-width:1.9"/>
<path d="M452.5 748.1L443.9 690.6L464.3 690.6L455.7 748.1Z" class="a"/>
<path d="M454.1 690.6L454.1 747.6" style="stroke-width:1.9;stroke-linecap:butt"/>
<path d="M438.2 758.7L532.6 704.6" style="stroke-width:1.9"/>
<path d="M510.6 851.2L438.2 891.7" style="stroke-width:1.9"/>
<path d="M455.6 883.7L464.2 941.2L443.8 941.2L452.4 883.7Z" class="a"/>
<path d="M454 941.2L454 884.2" style="stroke-width:1.9;stroke-linecap:butt"/>
<path d="M454 941L454 979.4" style="stroke-width:1.9"/>
<path d="M551.7 647.7L634.5 600.2" style="stroke-width:1.9"/>
<path d="M619.3 608.1L673.4 629.4L663.2 647.1L617.7 610.9Z" class="a"/>
<path d="M736.3 677.5L618.9 609.8" style="stroke-width:1.9;stroke-linecap:butt"/>
<path d="M833.8 734.8L902 774" style="stroke-width:1.9"/>
<path d="M951.8 803.6L897.7 782.3L907.9 764.6L953.4 800.8Z" class="a"/>
<path d="M902.8 773.5L952.2 802" style="stroke-width:1.9;stroke-linecap:butt"/>
<path d="M885.5 840.9L968.1 793.1" style="stroke-width:1.9"/>
<path d="M851.6 915L959.1 975.8" style="stroke-width:1.9"/>
<path d="M753.7 971.5L860.1 1032.9" style="stroke-width:1.9"/>
<path d="M941.9 964.5L987.4 928.3L997.6 946L943.5 967.3Z" class="a"/>
<path d="M1024 918.9L943.1 965.6" style="stroke-width:1.9;stroke-linecap:butt"/>
<path d="M843.1 1024.7L797.6 1060.9L787.4 1043.2L841.5 1021.9Z" class="a"/>
<path d="M759.9 1070.9L841.9 1023.5" style="stroke-width:1.9;stroke-linecap:butt"/>
<path d="M646.9 979.9L727.6 828" style="stroke-width:1.9"/>
<path d="M713.2 1038.5L787.9 875.2" style="stroke-width:1.9"/>
<path d="M455.8 1258.9L455.8 1298" style="stroke-width:1.9"/>
<path d="M454.2 1355.9L445.6 1298.4L466 1298.4L457.4 1355.9Z" class="a"/>
<path d="M455.8 1298.4L455.8 1355.4" style="stroke-width:1.9;stroke-linecap:butt"/>
<path d="M439.4 1365L552.6 1301.3" style="stroke-width:1.9"/>
<path d="M531.8 1446.3L439.6 1499.2" style="stroke-width:1.9"/>
<path d="M457 1490.7L465.6 1548.2L445.2 1548.2L453.8 1490.7Z" class="a"/>
<path d="M455.4 1548.2L455.4 1491.2" style="stroke-width:1.9;stroke-linecap:butt"/>
<path d="M455.4 1547L455.4 1586.3" style="stroke-width:1.9"/>
<path d="M522.3 1215.1L604.9 1167.5" style="stroke-width:1.9"/>
<path d="M588.7 1176.3L642.8 1197.6L632.6 1215.3L587.1 1179.1Z" class="a"/>
<path d="M743.9 1267.8L588.3 1178" style="stroke-width:1.9;stroke-linecap:butt"/>
<path d="M840.6 1323.4L947.5 1384.2" style="stroke-width:1.9"/>
<path d="M996.2 1413.9L942.1 1392.6L952.3 1374.9L997.8 1411.1Z" class="a"/>
<path d="M947.2 1383.8L996.6 1412.2" style="stroke-width:1.9;stroke-linecap:butt"/>
<path d="M932 1451.2L1013.4 1404" style="stroke-width:1.9"/>
<path d="M860 1501L982.3 1574.3" style="stroke-width:1.9"/>
<path d="M774.1 1568L885.3 1630.3" style="stroke-width:1.9"/>
<path d="M965.1 1561.6L1010.6 1525.4L1020.8 1543.1L966.7 1564.4Z" class="a"/>
<path d="M1049.4 1514.8L966.3 1562.8" style="stroke-width:1.9;stroke-linecap:butt"/>
<path d="M868.3 1622.9L822.8 1659.1L812.6 1641.4L866.7 1620.1Z" class="a"/>
<path d="M784.5 1669.4L867.1 1621.8" style="stroke-width:1.9;stroke-linecap:butt"/>
<path d="M657.4 1592L746.7 1419.5" style="stroke-width:1.9"/>
<path d="M722.5 1644.5L823.5 1476" style="stroke-width:1.9"/>
</svg>
</body></html>
